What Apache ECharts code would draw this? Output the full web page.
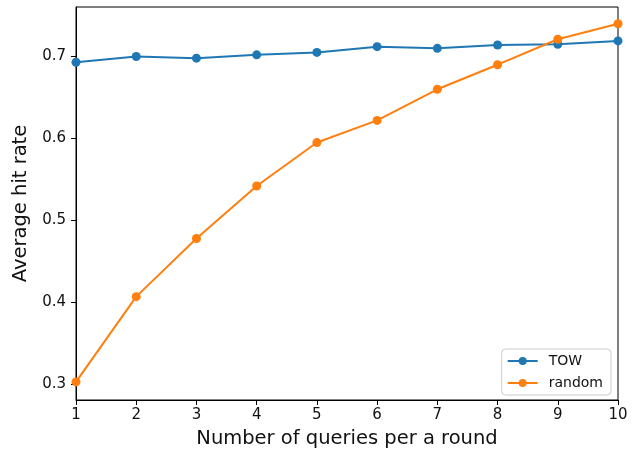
<!DOCTYPE html>
<html><head><meta charset="utf-8">
<script src="https://cdn.jsdelivr.net/npm/echarts@6/dist/echarts.min.js"></script>
<style>html,body{margin:0;padding:0;background:#fff}#c{width:640px;height:454px}</style>
</head><body><div id="c"></div>
<script>
const xValues = [1, 2, 3, 4, 5, 6, 7, 8, 9, 10];
const towValues = [0.693, 0.700, 0.698, 0.702, 0.705, 0.712, 0.710, 0.714, 0.715, 0.719];
const randomValues = [0.303, 0.407, 0.478, 0.542, 0.595, 0.622, 0.660, 0.690, 0.721, 0.740];
const yTicks = [0.3, 0.4, 0.5, 0.6, 0.7];
const seriesNames = ['TOW', 'random'];

const font = 'DejaVu Sans';
const chart = echarts.init(document.getElementById('c'), null, {renderer: 'canvas'});
const mk = (vals) => xValues.map((x, i) => [x, vals[i]]);
chart.setOption({
  animation: false,
  backgroundColor: '#fff',
  grid: {left: 76, right: 22, top: 7, bottom: 52, show: true, borderColor: '#000', borderWidth: 1, containLabel: false},
  xAxis: {
    type: 'value', min: 1, max: 10, interval: 1,
    name: 'Number of queries per a round', nameLocation: 'middle', nameGap: 29,
    nameTextStyle: {fontFamily: font, fontSize: 19.5, color: '#111'},
    axisLine: {lineStyle: {color: '#000'}},
    axisTick: {show: true, length: 5, lineStyle: {color: '#000'}},
    axisLabel: {fontFamily: font, fontSize: 15, color: '#111', margin: 8},
    splitLine: {show: false}
  },
  yAxis: {
    type: 'value', min: 0.2809, max: 0.7604,
    name: 'Average hit rate', nameLocation: 'middle', nameGap: 35,
    nameTextStyle: {fontFamily: font, fontSize: 19.5, color: '#111'},
    axisLine: {show: true, lineStyle: {color: '#000'}},
    axisTick: {show: true, length: 5, customValues: yTicks, lineStyle: {color: '#000'}},
    axisLabel: {fontFamily: font, fontSize: 15, color: '#111', margin: 10, customValues: yTicks,
      formatter: v => v.toFixed(1)},
    splitLine: {show: false}
  },
  legend: {
    orient: 'vertical', right: 29, bottom: 59,
    data: seriesNames,
    backgroundColor: '#fff', borderColor: '#ccc', borderWidth: 1, borderRadius: 4,
    padding: [5, 8, 5, 5], itemGap: 8, itemWidth: 30, itemHeight: 10,
    textStyle: {fontFamily: font, fontSize: 14, color: '#111', padding: [0, 0, 0, 6]}
  },
  series: [
    {name: seriesNames[0], type: 'line', data: mk(towValues), color: '#1f77b4',
     symbol: 'circle', symbolSize: 9, lineStyle: {width: 2}, z: 2},
    {name: seriesNames[1], type: 'line', data: mk(randomValues), color: '#ff7f0e',
     symbol: 'circle', symbolSize: 9, lineStyle: {width: 2}, z: 3}
  ]
});
</script></body></html>
